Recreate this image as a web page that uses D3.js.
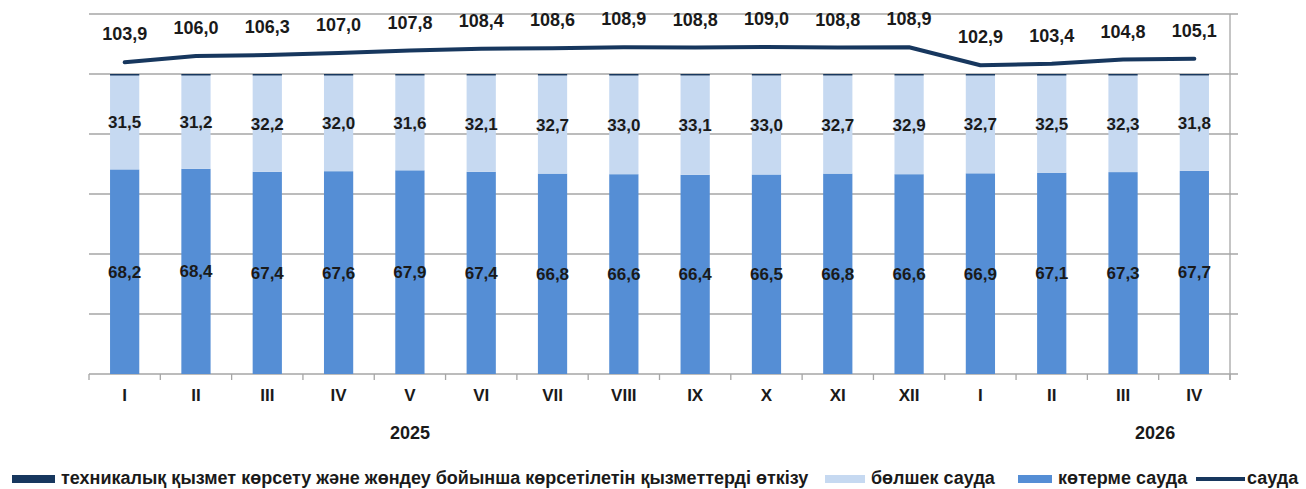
<!DOCTYPE html>
<html><head><meta charset="utf-8">
<script src="https://cdn.jsdelivr.net/npm/d3@7"></script>
<style>body{margin:0;background:#fff}</style>
</head><body>
<svg id="c" width="1306" height="489"></svg>
<script>
const months = ["I","II","III","IV","V","VI","VII","VIII","IX","X","XI","XII","I","II","III","IV"];
const yearLabels = ["2025","2026"];
const yearAnchor = [4, 14.45];
const wholesale = [68.2,68.4,67.4,67.6,67.9,67.4,66.8,66.6,66.4,66.5,66.8,66.6,66.9,67.1,67.3,67.7];
const retail = [31.5,31.2,32.2,32.0,31.6,32.1,32.7,33.0,33.1,33.0,32.7,32.9,32.7,32.5,32.3,31.8];
const service = [0.3,0.4,0.4,0.4,0.5,0.5,0.5,0.4,0.5,0.5,0.5,0.5,0.4,0.4,0.4,0.5];
const trade = [103.9,106.0,106.3,107.0,107.8,108.4,108.6,108.9,108.8,109.0,108.8,108.9,102.9,103.4,104.8,105.1];
const yTicks = [0,20,40,60,80,100,120];
const legendNames = ["техникалық қызмет көрсету және жөндеу бойынша көрсетілетін қызметтерді өткізу","бөлшек сауда","көтерме сауда","сауда"];

const C = {navy:"#17375e", light:"#c6d9f1", mid:"#558ed5", grid:"#a6a6a6"};
const fmt = v => d3.format(".1f")(v).replace(".", ",");
const FONT = "'Liberation Sans', Arial, sans-serif";

const svg = d3.select("#c");
const L = 89, R = 1230, T = 14, B = 374;
const idx = d3.range(months.length);
const x = d3.scaleBand().domain(idx).range([L, R]).paddingInner(0.59).paddingOuter(0.295);
const y = d3.scaleLinear().domain([0,120]).range([B, T]);
const cx = i => x(i) + x.bandwidth()/2;

// gridlines
svg.append("g").selectAll("line").data(yTicks).join("line")
  .attr("x1", L).attr("x2", R + 8).attr("y1", d => y(d)).attr("y2", d => y(d))
  .attr("stroke", C.grid).attr("stroke-width", 1.3);
// right axis
svg.append("line").attr("x1", R).attr("x2", R).attr("y1", T).attr("y2", B + 6)
  .attr("stroke", C.grid).attr("stroke-width", 1.3);
// bottom ticks
svg.append("g").selectAll("line").data(d3.range(months.length + 1)).join("line")
  .attr("x1", k => L + k * x.step()).attr("x2", k => L + k * x.step())
  .attr("y1", B).attr("y2", B + 6).attr("stroke", C.grid).attr("stroke-width", 1.3);

// stacked bars
const stacks = idx.map(i => ({i, segs:[
  {v0:0, v1:wholesale[i], c:C.mid, label:wholesale[i]},
  {v0:wholesale[i], v1:wholesale[i]+retail[i], c:C.light, label:retail[i]},
  {v0:wholesale[i]+retail[i], v1:wholesale[i]+retail[i]+service[i], c:C.navy, label:null}
]}));
const bars = svg.append("g");
stacks.forEach(s => {
  s.segs.forEach(g => {
    bars.append("rect").attr("x", x(s.i)).attr("width", x.bandwidth())
      .attr("y", y(g.v1)).attr("height", Math.max(y(g.v0) - y(g.v1), 1.5)).attr("fill", g.c);
  });
});
const lab = svg.append("g").attr("font-family", FONT).attr("font-weight", "bold").attr("font-size", 17)
  .attr("fill", "#1a1a1a").attr("text-anchor", "middle");
stacks.forEach(s => {
  s.segs.filter(g => g.label !== null).forEach(g => {
    lab.append("text").attr("x", cx(s.i)).attr("y", (y(g.v0) + y(g.v1))/2 + 6).text(fmt(g.label));
  });
});

// line
svg.append("path").datum(idx)
  .attr("d", d3.line().x(i => cx(i)).y(i => y(trade[i])))
  .attr("fill", "none").attr("stroke", C.navy).attr("stroke-width", 4).attr("stroke-linecap", "round").attr("stroke-linejoin", "round");
lab.selectAll(".tl").data(idx).join("text").attr("class","tl")
  .attr("x", i => cx(i)).attr("y", i => y(trade[i]) - 22).attr("font-size", 18).text(i => fmt(trade[i]));

// x labels
const xl = svg.append("g").attr("font-family", FONT).attr("font-weight", "bold").attr("font-size", 17)
  .attr("fill", "#1a1a1a").attr("text-anchor", "middle");
xl.selectAll("text").data(idx).join("text").attr("x", i => cx(i)).attr("y", 401).text(i => months[i]);
xl.selectAll(".yr").data(yearLabels).join("text").attr("class","yr")
  .attr("x", (d,k) => L + (yearAnchor[k] + 0.5) * x.step()).attr("y", 439).attr("font-size", 18).text(d => d);

// legend
const lg = svg.append("g").attr("font-family", FONT).attr("font-weight", "bold").attr("font-size", 18).attr("fill", "#1a1a1a");
const lgX = [12, 825, 1018, 1196];
const lgW = [43, 40, 34, 49];
const lgC = [C.navy, C.light, C.mid, C.navy];
legendNames.forEach((n, k) => {
  if (k < 3) lg.append("rect").attr("x", lgX[k]).attr("y", 475).attr("width", lgW[k]).attr("height", 8).attr("fill", lgC[k]);
  else lg.append("line").attr("x1", lgX[k]).attr("x2", lgX[k] + lgW[k]).attr("y1", 479).attr("y2", 479).attr("stroke", lgC[k]).attr("stroke-width", 4);
  lg.append("text").attr("x", lgX[k] + lgW[k] + (k === 3 ? 2 : 6)).attr("y", 484).text(n);
});
</script>
</body></html>
